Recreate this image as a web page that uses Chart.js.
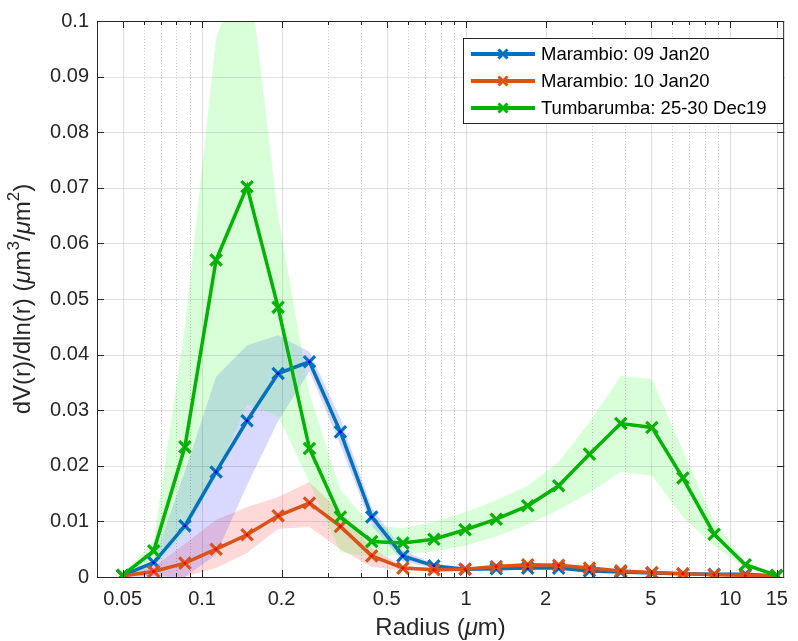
<!DOCTYPE html>
<html>
<head>
<meta charset="utf-8">
<script src="https://cdn.jsdelivr.net/npm/chart.js@4.4.0/dist/chart.umd.min.js"></script>
<style>
  html, body { margin: 0; padding: 0; background: #fff; }
  #wrap { width: 798px; height: 641px; }
</style>
</head>
<body>
<div id="wrap"><canvas id="sizeChart" width="798" height="641"></canvas></div>
<script>
// radius bins (um)
const radius = [0.05, 0.0656, 0.0861, 0.113, 0.148, 0.194, 0.255, 0.334, 0.439, 0.576, 0.755,
                0.991, 1.30, 1.71, 2.24, 2.93, 3.85, 5.05, 6.62, 8.69, 11.4, 15.0];

// Marambio 09 Jan20
const blueMean = [0.0003, 0.0026, 0.0092, 0.0189, 0.0281, 0.0366, 0.0387, 0.0261, 0.0108, 0.0038, 0.0020,
                  0.0014, 0.0015, 0.0016, 0.0016, 0.0011, 0.0009, 0.0007, 0.0006, 0.0005, 0.0005, 0.0002];
const blueHigh = [0.0004, 0.0031, 0.019, 0.036, 0.0417, 0.0435, 0.0405, 0.0285, 0.0125, 0.0048, 0.0024,
                  0.0017, 0.0018, 0.0019, 0.0019, 0.0014, 0.0011, 0.0009, 0.0008, 0.0007, 0.0006, 0.0003];
const blueLow  = [0.0001, 0.0, 0.0, 0.004, 0.0165, 0.028, 0.037, 0.0237, 0.0092, 0.0028, 0.0016,
                  0.0011, 0.0012, 0.0013, 0.0013, 0.0008, 0.0007, 0.0005, 0.0004, 0.0003, 0.0004, 0.0001];

// Marambio 10 Jan20
const redMean = [0.0002, 0.0010, 0.0025, 0.0050, 0.0076, 0.0110, 0.0133, 0.0091, 0.0038, 0.0016, 0.0013,
                 0.0014, 0.0019, 0.0022, 0.0021, 0.0016, 0.0011, 0.0008, 0.0006, 0.0004, 0.0003, 0.0002];
const redHigh = [0.0003, 0.0018, 0.006, 0.0103, 0.0126, 0.0144, 0.0171, 0.0118, 0.0052, 0.0020, 0.0016,
                 0.0017, 0.0022, 0.0025, 0.0024, 0.0019, 0.0014, 0.0011, 0.0008, 0.0006, 0.0005, 0.0003];
const redLow  = [0.0001, 0.0002, 0.0, 0.0016, 0.0043, 0.0087, 0.0090, 0.0050, 0.0018, 0.0012, 0.0010,
                 0.0011, 0.0016, 0.0019, 0.0018, 0.0013, 0.0008, 0.0005, 0.0004, 0.0002, 0.0001, 0.0001];

// Tumbarumba 25-30 Dec19
const greenMean = [0.0003, 0.0047, 0.0234, 0.0570, 0.0702, 0.0485, 0.0231, 0.0108, 0.0064, 0.0061, 0.0068,
                   0.0085, 0.0104, 0.0128, 0.0164, 0.0221, 0.0276, 0.0269, 0.0178, 0.0077, 0.0022, 0.0003];
const greenHigh = [0.0004, 0.0065, 0.045, 0.097, 0.112, 0.065, 0.033, 0.0157, 0.0093, 0.0088, 0.0099,
                   0.0117, 0.0138, 0.0164, 0.0207, 0.0279, 0.0362, 0.0356, 0.0228, 0.0100, 0.0027, 0.0004];
const greenLow  = [0.0002, 0.002, 0.008, 0.018, 0.031, 0.029, 0.017, 0.0045, 0.0035, 0.0041, 0.0046,
                   0.0056, 0.0073, 0.0094, 0.0121, 0.0151, 0.0189, 0.0182, 0.0108, 0.0056, 0.0016, 0.0002];

const xTicks = [0.05, 0.1, 0.2, 0.5, 1, 2, 5, 10, 15];
const xMinor = [0.04, 0.06, 0.07, 0.08, 0.09, 0.3, 0.4, 0.6, 0.7, 0.8, 0.9, 3, 4, 6, 7, 8, 9];
const labels = ['Marambio: 09 Jan20', 'Marambio: 10 Jan20', 'Tumbarumba: 25-30 Dec19'];

const FONT = '"Liberation Sans", Arial, Helvetica, sans-serif';
const AX = '#262626';

function pts(ys) {
  return radius.map((r, i) => ({ x: r, y: ys[i] }));
}

function band(ys, color, fill) {
  return {
    data: pts(ys), fill: fill, backgroundColor: color, borderWidth: 0,
    pointRadius: 0, order: 5, isBand: true
  };
}

function series(label, ys, color, dot, order) {
  return {
    label: label, data: pts(ys), borderColor: color, backgroundColor: color,
    borderWidth: 3.5, pointStyle: 'crossRot', pointRadius: 8, pointBorderWidth: 3.2,
    pointBorderColor: color, fill: false, order: order, dotColor: dot
  };
}

// draw text made of runs (italic mu, superscripts)
function drawRuns(ctx, runs, size, cx, cy) {
  const fontOf = r => (r.it ? 'italic ' : '') + Math.round(r.sup ? size * 0.7 : size) + 'px ' + FONT;
  let w = 0;
  runs.forEach(r => { ctx.font = fontOf(r); w += ctx.measureText(r.t).width; });
  let x = cx - w / 2;
  ctx.textBaseline = 'middle';
  ctx.textAlign = 'left';
  runs.forEach(r => {
    ctx.font = fontOf(r);
    ctx.fillText(r.t, x, r.sup ? cy - size * 0.38 : cy);
    x += ctx.measureText(r.t).width;
  });
}

function cross(ctx, x, y, r) {
  ctx.beginPath();
  ctx.moveTo(x - r, y - r); ctx.lineTo(x + r, y + r);
  ctx.moveTo(x - r, y + r); ctx.lineTo(x + r, y - r);
  ctx.stroke();
}

const framePlugin = {
  id: 'frame',
  beforeDatasetsDraw(chart) {
    const { ctx, chartArea: a, scales: { x, y } } = chart;
    ctx.save();
    ctx.lineWidth = 1;
    // y grid
    ctx.strokeStyle = 'rgba(38,38,38,0.15)';
    y.ticks.forEach(t => {
      const py = Math.round(y.getPixelForValue(t.value)) + 0.5;
      ctx.beginPath(); ctx.moveTo(a.left, py); ctx.lineTo(a.right, py); ctx.stroke();
    });
    // x major grid
    xTicks.forEach(v => {
      const px = Math.round(x.getPixelForValue(v)) + 0.5;
      ctx.beginPath(); ctx.moveTo(px, a.top); ctx.lineTo(px, a.bottom); ctx.stroke();
    });
    // x minor grid, dotted
    ctx.strokeStyle = 'rgba(38,38,38,0.25)';
    ctx.setLineDash([1, 2]);
    xMinor.forEach(v => {
      const px = Math.round(x.getPixelForValue(v)) + 0.5;
      ctx.beginPath(); ctx.moveTo(px, a.top); ctx.lineTo(px, a.bottom); ctx.stroke();
    });
    ctx.restore();
  },
  afterDatasetDraw(chart, args) {
    const ds = chart.data.datasets[args.index];
    if (!ds.dotColor) return;
    const ctx = chart.ctx;
    ctx.save();
    ctx.fillStyle = ds.dotColor;
    args.meta.data.forEach(p => {
      ctx.beginPath(); ctx.arc(p.x, p.y, 1.6, 0, Math.PI * 2); ctx.fill();
    });
    ctx.restore();
  },
  afterDraw(chart) {
    const { ctx, chartArea: a, scales: { x, y } } = chart;
    ctx.save();
    ctx.strokeStyle = AX;
    ctx.lineWidth = 1;
    // box
    ctx.strokeRect(a.left + 0.5, a.top + 0.5, a.right - a.left - 1, a.bottom - a.top);
    // inward ticks
    ctx.beginPath();
    xTicks.forEach(v => {
      const px = Math.round(x.getPixelForValue(v)) + 0.5;
      ctx.moveTo(px, a.bottom); ctx.lineTo(px, a.bottom - 7);
      ctx.moveTo(px, a.top); ctx.lineTo(px, a.top + 7);
    });
    xMinor.forEach(v => {
      const px = Math.round(x.getPixelForValue(v)) + 0.5;
      ctx.moveTo(px, a.bottom); ctx.lineTo(px, a.bottom - 4);
      ctx.moveTo(px, a.top); ctx.lineTo(px, a.top + 4);
    });
    y.ticks.forEach(t => {
      const py = Math.round(y.getPixelForValue(t.value)) + 0.5;
      ctx.moveTo(a.left, py); ctx.lineTo(a.left + 7, py);
      ctx.moveTo(a.right, py); ctx.lineTo(a.right - 7, py);
    });
    ctx.stroke();

    // axis titles
    ctx.fillStyle = AX;
    drawRuns(ctx, [{ t: 'Radius (' }, { t: 'μ', it: true }, { t: 'm)' }], 24, (a.left + a.right) / 2, 628);
    ctx.save();
    ctx.translate(23, (a.top + a.bottom) / 2);
    ctx.rotate(-Math.PI / 2);
    drawRuns(ctx, [{ t: 'dV(r)/dln(r) (' }, { t: 'μ', it: true }, { t: 'm' }, { t: '3', sup: true },
                   { t: '/' }, { t: 'μ', it: true }, { t: 'm' }, { t: '2', sup: true }, { t: ')' }], 24, 0, 0);
    ctx.restore();

    // legend
    const lx = 463, ly = 38, lw = 320, lh = 85;
    ctx.fillStyle = '#fff';
    ctx.fillRect(lx, ly, lw, lh);
    ctx.strokeStyle = AX;
    ctx.lineWidth = 1;
    ctx.strokeRect(lx + 0.5, ly + 0.5, lw, lh);
    const legendSets = [6, 7, 8];
    legendSets.forEach((di, k) => {
      const ds = chart.data.datasets[di];
      const ry = 54 + k * 27;
      ctx.strokeStyle = ds.borderColor;
      ctx.lineWidth = 4;
      ctx.beginPath(); ctx.moveTo(471, ry); ctx.lineTo(535, ry); ctx.stroke();
      ctx.lineWidth = 3;
      cross(ctx, 503, ry, 4.5);
      ctx.fillStyle = '#000';
      ctx.font = '18.5px ' + FONT;
      ctx.textBaseline = 'middle';
      ctx.textAlign = 'left';
      ctx.fillText(ds.label, 541, ry + 1);
    });
    ctx.restore();
  }
};

new Chart(document.getElementById('sizeChart'), {
  type: 'line',
  data: {
    datasets: [
      band(greenHigh, 'rgba(0,255,0,0.15)', '+1'),
      band(greenLow, 'rgba(0,0,0,0)', false),
      band(blueHigh, 'rgba(0,0,255,0.15)', '+1'),
      band(blueLow, 'rgba(0,0,0,0)', false),
      band(redHigh, 'rgba(255,0,0,0.15)', '+1'),
      band(redLow, 'rgba(0,0,0,0)', false),
      series(labels[0], blueMean, '#0072BD', '#0000ff', 3),
      series(labels[1], redMean, '#D95319', '#ff0000', 2),
      series(labels[2], greenMean, '#00b300', '#00b300', 1)
    ]
  },
  options: {
    responsive: false,
    devicePixelRatio: 1,
    animation: false,
    layout: { padding: { top: 21, right: 6, left: 0, bottom: 0 } },
    plugins: { legend: { display: false }, tooltip: { enabled: false } },
    elements: { line: { tension: 0 } },
    scales: {
      x: {
        type: 'logarithmic', min: 0.04, max: 16,
        grid: { display: false, drawTicks: false },
        border: { display: false },
        afterBuildTicks: s => { s.ticks = xTicks.map(v => ({ value: v })); },
        afterFit: s => { s.height = 64; },
        ticks: {
          autoSkip: false, maxRotation: 0, padding: 10, color: AX,
          font: { family: FONT, size: 20 },
          callback: v => String(v)
        }
      },
      y: {
        min: 0, max: 0.1,
        grid: { display: false, drawTicks: false },
        border: { display: false },
        afterFit: s => { s.width = 97; },
        ticks: {
          stepSize: 0.01, padding: 8, color: AX,
          font: { family: FONT, size: 20 },
          callback: v => String(+v.toFixed(2))
        }
      }
    }
  },
  plugins: [framePlugin]
});
</script>
</body>
</html>
